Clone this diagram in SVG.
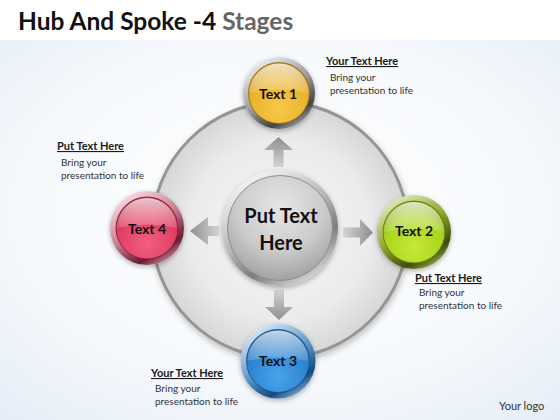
<svg xmlns="http://www.w3.org/2000/svg" width="560" height="420" viewBox="0 0 560 420">
  <style>
    .title { font-family: Lato, "Open Sans", "Liberation Sans", sans-serif; font-weight: bold; font-size: 24.5px; fill: #111; }
    .lbl { font-family: Lato, "Open Sans", "Liberation Sans", sans-serif; font-weight: bold; font-size: 14px; fill: #111; text-anchor: middle; }
    .hubt { font-family: Lato, "Open Sans", "Liberation Sans", sans-serif; font-weight: bold; font-size: 20px; fill: #111; text-anchor: middle; }
    .head { font-family: Lato, "Open Sans", "Liberation Sans", sans-serif; font-weight: bold; font-size: 11px; fill: #1a1a1a; text-decoration: underline; }
    .body { font-family: Lato, "Open Sans", "Liberation Sans", sans-serif; font-size: 10px; fill: #333; }
    .logo { font-family: Lato, "Open Sans", "Liberation Sans", sans-serif; font-size: 11px; fill: #333; }
    .arrow { stroke: none; }
  </style>
  <defs>
    <radialGradient id="bg" cx="0.5" cy="0.45" r="0.75">
      <stop offset="0" stop-color="#ffffff"/>
      <stop offset="0.6" stop-color="#f6f9fc"/>
      <stop offset="1" stop-color="#e4edf7"/>
    </radialGradient>
    <radialGradient id="ringFill" cx="0.5" cy="0.5" r="0.5">
      <stop offset="0" stop-color="#f7f7f7"/>
      <stop offset="0.7" stop-color="#ebebeb"/>
      <stop offset="1" stop-color="#d6d6d6"/>
    </radialGradient>
    <linearGradient id="metal" x1="0.2" y1="0" x2="0.8" y2="1">
      <stop offset="0" stop-color="#fbfbfb"/>
      <stop offset="0.45" stop-color="#b9b9b9"/>
      <stop offset="0.7" stop-color="#7d7d7d"/>
      <stop offset="1" stop-color="#e8e8e8"/>
    </linearGradient>
    <radialGradient id="hubFill" cx="0.5" cy="0.3" r="0.7">
      <stop offset="0" stop-color="#e6e6e6"/>
      <stop offset="0.6" stop-color="#cbcbcb"/>
      <stop offset="1" stop-color="#a2a2a2"/>
    </radialGradient>
    <linearGradient id="aUp" x1="0" y1="1" x2="0" y2="0">
      <stop offset="0" stop-color="#d4d4d4"/>
      <stop offset="1" stop-color="#8e8e8e"/>
    </linearGradient>
    <linearGradient id="aDown" x1="0" y1="0" x2="0" y2="1">
      <stop offset="0" stop-color="#d4d4d4"/>
      <stop offset="1" stop-color="#8e8e8e"/>
    </linearGradient>
    <linearGradient id="aRight" x1="0" y1="0" x2="1" y2="0">
      <stop offset="0" stop-color="#d4d4d4"/>
      <stop offset="1" stop-color="#8e8e8e"/>
    </linearGradient>
    <linearGradient id="aLeft" x1="1" y1="0" x2="0" y2="0">
      <stop offset="0" stop-color="#d4d4d4"/>
      <stop offset="1" stop-color="#8e8e8e"/>
    </linearGradient>
    <radialGradient id="yel" cx="0.5" cy="0.75" r="0.7">
      <stop offset="0" stop-color="#f7c948"/>
      <stop offset="0.7" stop-color="#eab22c"/>
      <stop offset="1" stop-color="#c98e12"/>
    </radialGradient>
    <radialGradient id="grn" cx="0.5" cy="0.75" r="0.7">
      <stop offset="0" stop-color="#c6ea3a"/>
      <stop offset="0.7" stop-color="#a7d41a"/>
      <stop offset="1" stop-color="#7a9e0c"/>
    </radialGradient>
    <radialGradient id="blu" cx="0.5" cy="0.75" r="0.7">
      <stop offset="0" stop-color="#4aa3ea"/>
      <stop offset="0.7" stop-color="#2c84d2"/>
      <stop offset="1" stop-color="#1b5fa6"/>
    </radialGradient>
    <radialGradient id="red" cx="0.5" cy="0.75" r="0.7">
      <stop offset="0" stop-color="#f0607e"/>
      <stop offset="0.7" stop-color="#e03e62"/>
      <stop offset="1" stop-color="#b2233f"/>
    </radialGradient>
    <linearGradient id="ringY" x1="0.2" y1="0" x2="0.8" y2="1">
      <stop offset="0" stop-color="#f4f4f4"/>
      <stop offset="0.5" stop-color="#9a9a9a"/>
      <stop offset="0.8" stop-color="#444"/>
      <stop offset="1" stop-color="#bbbbbb"/>
    </linearGradient>
    <linearGradient id="ringG" x1="0.2" y1="0" x2="0.8" y2="1">
      <stop offset="0" stop-color="#e8f2c0"/>
      <stop offset="0.5" stop-color="#8aa02a"/>
      <stop offset="0.8" stop-color="#3d4d08"/>
      <stop offset="1" stop-color="#a8bc50"/>
    </linearGradient>
    <linearGradient id="ringB" x1="0.2" y1="0" x2="0.8" y2="1">
      <stop offset="0" stop-color="#e4f0fa"/>
      <stop offset="0.5" stop-color="#5e97c8"/>
      <stop offset="0.8" stop-color="#124a80"/>
      <stop offset="1" stop-color="#9cc2e4"/>
    </linearGradient>
    <linearGradient id="ringR" x1="0.2" y1="0" x2="0.8" y2="1">
      <stop offset="0" stop-color="#fbe3ea"/>
      <stop offset="0.5" stop-color="#c77890"/>
      <stop offset="0.8" stop-color="#6b1a30"/>
      <stop offset="1" stop-color="#e2a6b6"/>
    </linearGradient>
    <linearGradient id="gloss" x1="0" y1="0" x2="0" y2="1">
      <stop offset="0" stop-color="#ffffff" stop-opacity="0.75"/>
      <stop offset="1" stop-color="#ffffff" stop-opacity="0.15"/>
    </linearGradient>
    <filter id="sh" x="-20%" y="-20%" width="140%" height="140%">
      <feDropShadow dx="0" dy="2" stdDeviation="2.5" flood-color="#000" flood-opacity="0.3"/>
    </filter>
    <filter id="shBig" x="-10%" y="-10%" width="120%" height="120%">
      <feDropShadow dx="1" dy="3" stdDeviation="3" flood-color="#000" flood-opacity="0.25"/>
    </filter>
  </defs>

  <!-- background -->
  <rect x="0" y="0" width="560" height="420" fill="#ffffff"/>
  <rect x="0" y="40" width="560" height="380" fill="url(#bg)"/>

  <!-- title -->
  <text class="title" x="18" y="30">Hub And Spoke -4 <tspan fill="#666">Stages</tspan></text>

  <!-- outer ring -->
  <g id="ring">
    <circle cx="280" cy="230" r="128" fill="url(#ringFill)" stroke="#959595" stroke-width="3" filter="url(#shBig)"/>
  </g>

  <!-- connectors -->
  <g id="connectors">
    <path class="arrow" fill="url(#aUp)" d="M273.5,167 L273.5,150 L264,150 L278.5,137 L293,150 L283.5,150 L283.5,167 Z"/>
    <path class="arrow" fill="url(#aDown)" d="M274,290 L284,290 L284,307 L293,307 L279,320 L265,307 L274,307 Z"/>
    <path class="arrow" fill="url(#aRight)" d="M343,227.5 L360,227.5 L360,219 L373,232.5 L360,246 L360,237.5 L343,237.5 Z"/>
    <path class="arrow" fill="url(#aLeft)" d="M219,226 L208,226 L208,217 L190,231 L208,245 L208,236 L219,236 Z"/>
  </g>

  <!-- hub -->
  <g id="hub">
    <circle cx="280" cy="228" r="58" fill="url(#metal)" filter="url(#sh)"/>
    <circle cx="280" cy="228" r="52.5" fill="url(#hubFill)" stroke="#8e8e8e" stroke-width="1"/>
    <text class="hubt" x="281" y="223">Put Text</text>
    <text class="hubt" x="281" y="250">Here</text>
  </g>

  <!-- node 1 -->
  <g id="node1">
    <circle cx="279" cy="93" r="36" fill="url(#ringY)" filter="url(#sh)"/>
    <circle cx="279" cy="93" r="30.5" fill="url(#yel)" stroke="#8a6a10" stroke-width="0.8"/>
    <path d="M249.5,93 A29.5,29.5 0 0 1 308.5,93 Q279,86 249.5,93 Z" fill="url(#gloss)"/>
    <text class="lbl" x="278" y="99">Text 1</text>
  </g>

  <!-- node 2 -->
  <g id="node2">
    <circle cx="414" cy="232" r="37" fill="url(#ringG)" filter="url(#sh)"/>
    <circle cx="414" cy="232" r="31" fill="url(#grn)" stroke="#5a7208" stroke-width="0.8"/>
    <path d="M384,232 A30,30 0 0 1 444,232 Q414,225 384,232 Z" fill="url(#gloss)"/>
    <text class="lbl" x="414" y="236">Text 2</text>
  </g>

  <!-- node 3 -->
  <g id="node3">
    <circle cx="278" cy="361" r="37.5" fill="url(#ringB)" filter="url(#sh)"/>
    <circle cx="278" cy="361" r="31.5" fill="url(#blu)" stroke="#154a80" stroke-width="0.8"/>
    <path d="M247.5,361 A30.5,30.5 0 0 1 308.5,361 Q278,354 247.5,361 Z" fill="url(#gloss)"/>
    <text class="lbl" x="278" y="366">Text 3</text>
  </g>

  <!-- node 4 -->
  <g id="node4">
    <circle cx="147" cy="228" r="37" fill="url(#ringR)" filter="url(#sh)"/>
    <circle cx="147" cy="228" r="31" fill="url(#red)" stroke="#7a1a30" stroke-width="0.8"/>
    <path d="M117,228 A30,30 0 0 1 177,228 Q147,221 117,228 Z" fill="url(#gloss)"/>
    <text class="lbl" x="147" y="234">Text 4</text>
  </g>

  <!-- notes -->
  <g id="note1">
    <text class="head" x="326" y="65">Your Text Here</text>
    <text class="body" x="330" y="81">Bring your</text>
    <text class="body" x="330" y="94">presentation to life</text>
  </g>
  <g id="note2">
    <text class="head" x="415" y="282">Put Text Here</text>
    <text class="body" x="419" y="296">Bring your</text>
    <text class="body" x="419" y="309">presentation to life</text>
  </g>
  <g id="note3">
    <text class="head" x="151" y="377">Your Text Here</text>
    <text class="body" x="155" y="392">Bring your</text>
    <text class="body" x="155" y="405">presentation to life</text>
  </g>
  <g id="note4">
    <text class="head" x="57" y="150">Put Text Here</text>
    <text class="body" x="61" y="166">Bring your</text>
    <text class="body" x="61" y="179">presentation to life</text>
  </g>

  <text class="logo" x="499" y="410">Your logo</text>
</svg>
